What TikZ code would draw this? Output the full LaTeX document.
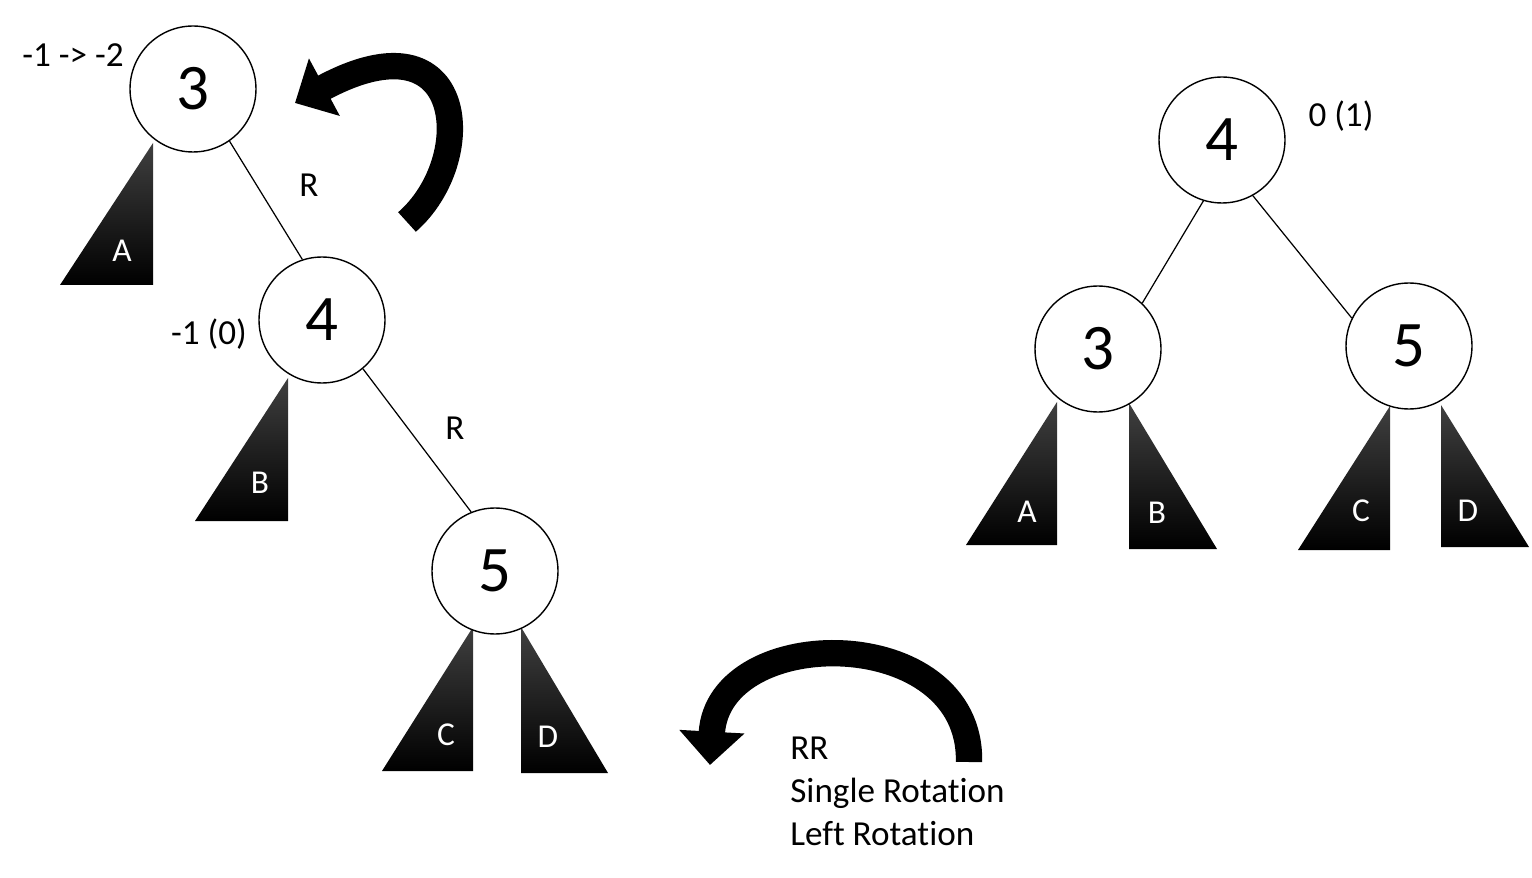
\documentclass[tikz,border=0pt]{standalone}
\usepackage{fontspec}
\setmainfont{Carlito}[Ligatures=NoCommon]
\usetikzlibrary{arrows.meta}
\tikzset{
    tnode/.style={
        draw,
        circle,
        fill=white,
        minimum size=2.52cm,
        inner sep=0pt,
        line width=0.8pt,
        font=\fontsize{37}{44}\selectfont
    },
    lbl/.style={font=\fontsize{20}{24.4}\selectfont, inner sep=0pt},
    sublbl/.style={font=\fontsize{19}{23}\selectfont, text=white, inner sep=0pt},
    subtree/.style={top color=black!75, middle color=black, bottom color=black},
    rotarrow/.style={line width=15pt, -{Triangle[length=19pt, width=36pt]}}
}

\begin{document}
\begin{tikzpicture}[x=0.02cm, y=-0.02cm]
    \useasboundingbox (0,0) rectangle (1532,878);

    % subtrees, before tree
    \shade[subtree] (153,143) -- (153,285) -- (60,285) -- cycle;
    \shade[subtree] (288,378) -- (288,521) -- (195,521) -- cycle;
    \shade[subtree] (473,627) -- (473,771) -- (382,771) -- cycle;
    \shade[subtree] (521,627) -- (521,773) -- (608,773) -- cycle;
    \node[sublbl] (LA) at (122,251) {A};
    \node[sublbl] (LB) at (260,483) {B};
    \node[sublbl] (LC) at (446,735) {C};
    \node[sublbl] (LD) at (548,737) {D};

    % tree before rotation
    \node[tnode] (L3) at (193,89) {3};
    \node[tnode] (L4) at (322,320) {4};
    \node[tnode] (L5) at (495,571) {5};
    \draw[line width=0.7pt] (L3.-55) -- (L4.108);
    \draw[line width=0.7pt] (L4.-50) -- (L5.112);
    \node[lbl] (bal3) at (73,55) {-1 -> -2};
    \node[lbl] (bal4) at (209,334) {-1 (0)};
    \node[lbl] (R1) at (309,185) {R};
    \node[lbl] (R2) at (455,428) {R};

    % subtrees, after
    \shade[subtree] (1057,402) -- (1057,545) -- (966,545) -- cycle;
    \shade[subtree] (1129,403) -- (1129,549) -- (1217,549) -- cycle;
    \shade[subtree] (1390,406) -- (1390,550) -- (1298,550) -- cycle;
    \shade[subtree] (1441,405) -- (1441,547) -- (1529,547) -- cycle;
    \node[sublbl] (RA) at (1027,512) {A};
    \node[sublbl] (RB) at (1157,513) {B};
    \node[sublbl] (RC) at (1361,511) {C};
    \node[sublbl] (RD) at (1468,511) {D};

    % tree after rotation
    \node[tnode] (R4) at (1222,140) {4};
    \node[tnode] (R3) at (1098,349) {3};
    \node[tnode] (R5) at (1409,346) {5};
    \draw[line width=0.7pt] (R4.-107) -- (R3.46);
    \draw[line width=0.7pt] (R4.-61) -- (R5.154);
    \node[lbl] (bal4r) at (1341,116) {0 (1)};

    % rotation arrows
    \draw[rotarrow] (407,222) .. controls (478,160) and (468,10) .. (295,103);
    \draw[rotarrow] (969,762) .. controls (972,622) and (718,622) .. (710,765);
    \node[lbl, anchor=west, align=left] (rot) at (790,791) {RR\\Single Rotation\\Left Rotation};
\end{tikzpicture}
\end{document}
